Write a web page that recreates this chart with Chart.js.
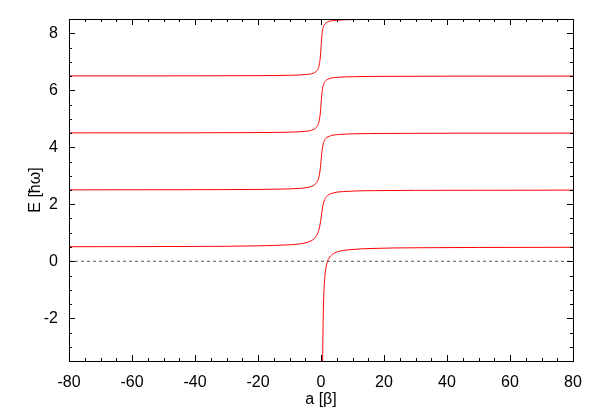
<!DOCTYPE html>
<html>
<head>
<meta charset="utf-8">
<script src="https://cdn.jsdelivr.net/npm/chart.js@4/dist/chart.umd.min.js"></script>
<style>
  body { margin: 0; background: #fff; }
</style>
</head>
<body>
<canvas id="myChart" width="593" height="415"></canvas>
<script>
// tick labels
var xTicks = [-80, -60, -40, -20, 0, 20, 40, 60, 80];
var yTicks = [-2, 0, 2, 4, 6, 8];

// lowest branch (bound state, a > 0)
var boundA = [0.498, 0.532, 0.574, 0.697, 0.798, 0.956, 1.253, 1.538, 2.09, 2.5, 3.71, 5.85, 8.52, 16.5, 30, 50, 80];
var boundE = [-4, -3.5, -3, -2, -1.5, -1, -0.5, -0.25, 0, 0.1, 0.25, 0.35, 0.4, 0.45, 0.473, 0.484, 0.49];

// 0.5 -> 2.5
var level1A = [-80, -40, -20, -10, -7.47, -3.43, -2.07, -1.384, -0.961, -0.4515, -0.1308, 0, 0.1229, 0.374, 0.698, 1.31, 2.01, 4.04, 8.05, 20, 40, 80];
var level1E = [0.51, 0.52, 0.54, 0.578, 0.6, 0.7, 0.8, 0.9, 1.0, 1.2, 1.4, 1.5, 1.6, 1.8, 2.0, 2.2, 2.3, 2.4, 2.45, 2.48, 2.49, 2.495];

// 2.5 -> 4.5
var level2A = [-80, -40, -20, -12, -7.89, -3.885, -1.86, -1.165, -0.574, -0.2833, -0.0855, 0, 0.0831, 0.2604, 0.4983, 0.9547, 1.48, 3.0, 6.0, 10, 20, 40, 80];
var level2E = [2.505, 2.51, 2.52, 2.533, 2.55, 2.6, 2.7, 2.8, 3.0, 3.2, 3.4, 3.5, 3.6, 3.8, 4.0, 4.2, 4.3, 4.4, 4.45, 4.47, 4.485, 4.4925, 4.496];

// 4.5 -> 6.5
var level3A = [-80, -40, -20, -10, -5.94, -2.936, -1.416, -0.8937, -0.4462, -0.223, -0.068, 0, 0.0668, 0.2112, 0.4076, 0.787, 1.2245, 2.492, 4.997, 10, 20, 40, 80];
var level3E = [4.504, 4.507, 4.515, 4.53, 4.55, 4.6, 4.7, 4.8, 5.0, 5.2, 5.4, 5.5, 5.6, 5.8, 6.0, 6.2, 6.3, 6.4, 6.45, 6.475, 6.4875, 6.494, 6.497];

// 6.5 -> 8.5
var level4A = [-80, -40, -20, -10, -4.958, -2.454, -1.1875, -0.7517, -0.3775, -0.1897, -0.0582, 0, 0.0574, 0.1823, 0.3532, 0.6848, 1.0675, 2.176, 4.367, 10, 20, 40, 80];
var level4E = [6.503, 6.506, 6.512, 6.525, 6.55, 6.6, 6.7, 6.8, 7.0, 7.2, 7.4, 7.5, 7.6, 7.8, 8.0, 8.2, 8.3, 8.4, 8.45, 8.478, 8.489, 8.4945, 8.497];

// dashed zero line
var zeroA = [-80, 80];
var zeroE = [0, 0];

function pts(xs, ys) {
    return xs.map(function (v, i) { return {x: v, y: ys[i]}; });
}

function curve(xs, ys) {
    return {
        data: pts(xs, ys),
        borderColor: 'rgb(255, 0, 0)',
        borderWidth: 1,
        pointRadius: 0,
        cubicInterpolationMode: 'monotone',
        fill: false
    };
}

// keep the plot box fixed, no extra room for overhanging labels
function fixScale(size) {
    return function (s) {
        if (s.isHorizontal()) s.height = size; else s.width = size;
        s.paddingLeft = s.paddingRight = s.paddingTop = s.paddingBottom = 0;
    };
}

var FONT = "'Liberation Sans', Arial, sans-serif";

// gnuplot-like box with inward ticks on all four sides
var boxTicks = {
    id: 'boxTicks',
    afterDatasetsDraw: function (chart) {
        var ctx = chart.ctx, a = chart.chartArea;
        var x = chart.scales.x, y = chart.scales.y;
        ctx.save();
        ctx.strokeStyle = '#000';
        ctx.lineWidth = 1;
        ctx.beginPath();
        var v, p, len;
        for (v = -80; v <= 80; v += 5) {
            p = Math.round(x.getPixelForValue(v)) + 0.5;
            len = xTicks.indexOf(v) >= 0 ? 6 : 3;
            ctx.moveTo(p, a.bottom); ctx.lineTo(p, a.bottom - len);
            ctx.moveTo(p, a.top); ctx.lineTo(p, a.top + len);
        }
        for (v = -3.5; v <= 8.5; v += 0.5) {
            p = Math.round(y.getPixelForValue(v)) + 0.5;
            len = yTicks.indexOf(v) >= 0 ? 6 : 3;
            ctx.moveTo(a.left, p); ctx.lineTo(a.left + len, p);
            ctx.moveTo(a.right, p); ctx.lineTo(a.right - len, p);
        }
        ctx.stroke();
        ctx.strokeRect(a.left + 0.5, a.top + 0.5, a.right - a.left, a.bottom - a.top);
        ctx.restore();
    }
};

var ctx = document.getElementById('myChart').getContext('2d');
var myChart = new Chart(ctx, {
    type: 'line',
    data: {
        datasets: [
            {
                data: pts(zeroA, zeroE),
                borderColor: '#555',
                borderWidth: 1,
                borderDash: [3, 3],
                pointRadius: 0
            },
            curve(boundA, boundE),
            curve(level1A, level1E),
            curve(level2A, level2E),
            curve(level3A, level3E),
            curve(level4A, level4E)
        ]
    },
    options: {
        responsive: false,
        animation: false,
        layout: {
            padding: {top: 19, right: 20, left: 0, bottom: 0}
        },
        plugins: {
            legend: {display: false},
            tooltip: {enabled: false}
        },
        scales: {
            x: {
                type: 'linear',
                min: -80,
                max: 80,
                grid: {display: false, drawTicks: false},
                border: {display: false},
                afterBuildTicks: function (s) {
                    s.ticks = xTicks.map(function (v) { return {value: v}; });
                },
                afterFit: fixScale(54),
                ticks: {
                    color: '#000',
                    padding: 12,
                    maxRotation: 0,
                    font: {family: FONT, size: 16}
                },
                title: {
                    display: true,
                    text: 'a [β]',
                    color: '#000',
                    padding: {bottom: 6},
                    font: {family: FONT, size: 16}
                }
            },
            y: {
                type: 'linear',
                min: -3.5,
                max: 8.5,
                grid: {display: false, drawTicks: false},
                border: {display: false},
                afterBuildTicks: function (s) {
                    s.ticks = yTicks.map(function (v) { return {value: v}; });
                },
                afterFit: fixScale(69),
                ticks: {
                    color: '#000',
                    padding: 11,
                    font: {family: FONT, size: 16}
                },
                title: {
                    display: true,
                    text: 'E [ħω]',
                    color: '#000',
                    padding: {top: 26},
                    font: {family: FONT, size: 16}
                }
            }
        }
    },
    plugins: [boxTicks]
});
</script>
</body>
</html>
